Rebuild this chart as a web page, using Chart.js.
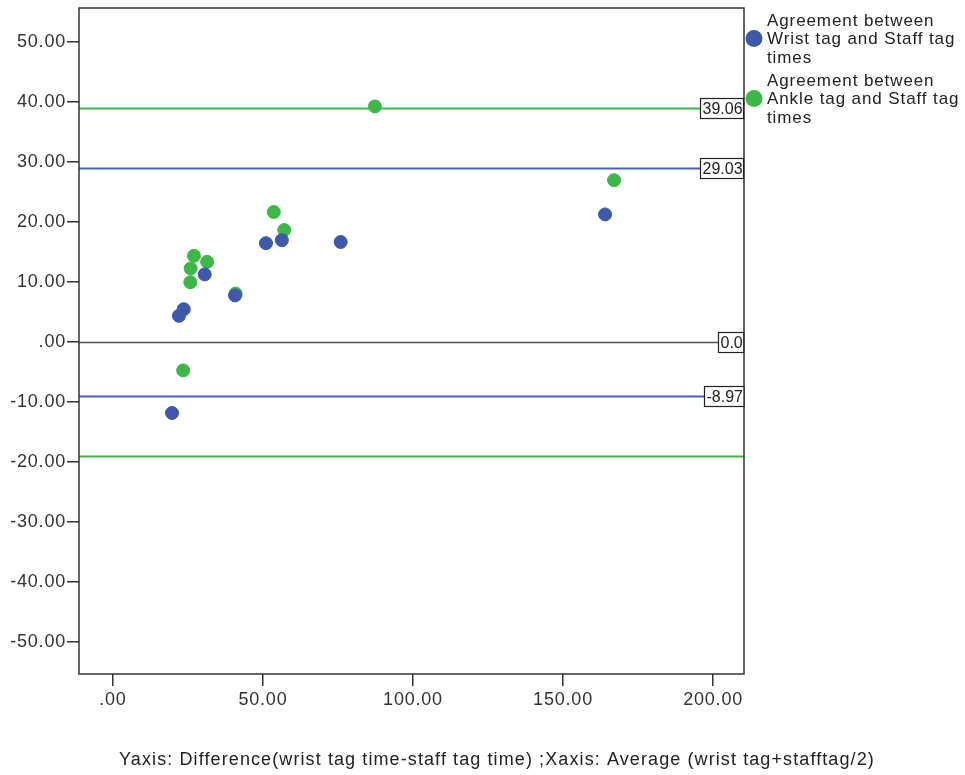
<!DOCTYPE html>
<html lang="en">

<head>
    <meta charset="UTF-8">
    <title>Bland-Altman - tag times</title>
    <script src="https://cdn.jsdelivr.net/npm/chart.js"></script>
    <style>
        body { margin: 0; background: #fff; }
        .boxGrafico { width: 965px; height: 775px; }
    </style>
</head>

<body>
    <div class="boxGrafico">
        <canvas id="myChartBland"></canvas>
    </div>
</body>

</html>

<script>

    // wrist tag vs staff tag (blue)
    const wristAvg = [19.7, 22.0, 23.6, 30.6, 40.7, 51.0, 56.3, 75.9, 164.0];
    const wristDiff = [-11.8, 4.4, 5.5, 11.3, 7.8, 16.5, 17.0, 16.7, 21.3];

    // ankle tag vs staff tag (green)
    const ankleAvg = [23.4, 25.8, 25.9, 27.0, 31.4, 40.9, 53.6, 57.1, 87.3, 167.0];
    const ankleDiff = [-4.7, 10.0, 12.3, 14.4, 13.4, 8.1, 21.7, 18.7, 39.3, 27.0];

    const legendLabels = [
        ['Agreement between', 'Wrist tag and Staff tag', 'times'],
        ['Agreement between', 'Ankle tag and Staff tag', 'times']
    ];

    // reference lines: value, colour, label
    const refValues = [39.06, 29.03, 0, -8.97, -18.9];
    const refLabels = ['39.06', '29.03', '0.0', '-8.97', ''];
    const refColors = ['#3db848', '#4a5fb5', '#555555', '#4a5fb5', '#3db848'];

    const xTicks = [0, 50, 100, 150, 200];
    const yTicks = [-50, -40, -30, -20, -10, 0, 10, 20, 30, 40, 50];

    const corAzul = '#3e58ac';
    const corVerde = '#3db848';
    const fonte = '"Liberation Sans", Arial, sans-serif';

    function formatarTick(v) {
        if (v === 0) return '.00';
        return v.toFixed(2);
    }

    const pluginExtras = {
        id: 'extras',
        beforeDraw(chart) {
            // labels in the reference are a bit wider than plain Arial
            chart.ctx.letterSpacing = '0.8px';
        },
        beforeDatasetsDraw(chart) {
            const ctx = chart.ctx;
            const area = chart.chartArea;
            const y = chart.scales.y;
            ctx.save();
            refValues.forEach((v, i) => {
                const py = Math.round(y.getPixelForValue(v)) + 0.5;
                ctx.strokeStyle = refColors[i];
                ctx.lineWidth = v === 0 ? 1.5 : 2;
                ctx.beginPath();
                ctx.moveTo(area.left, py);
                ctx.lineTo(area.right, py);
                ctx.stroke();
            });
            ctx.restore();
        },
        afterDraw(chart) {
            const ctx = chart.ctx;
            const area = chart.chartArea;
            const y = chart.scales.y;
            ctx.save();

            // frame
            ctx.strokeStyle = '#333';
            ctx.lineWidth = 1.5;
            ctx.strokeRect(area.left, area.top, area.right - area.left, area.bottom - area.top);

            // labels on reference lines
            ctx.letterSpacing = '0px';
            ctx.font = '16px ' + fonte;
            ctx.textBaseline = 'middle';
            ctx.textAlign = 'left';
            refValues.forEach((v, i) => {
                if (!refLabels[i]) return;
                const py = Math.round(y.getPixelForValue(v)) + 0.5;
                const w = ctx.measureText(refLabels[i]).width + 3;
                const h = 20;
                const bx = Math.round(area.right - w) - 0.5;
                const by = Math.round(py - h / 2) - 0.5;
                ctx.fillStyle = '#fff';
                ctx.fillRect(bx, by, w, h);
                ctx.strokeStyle = '#222';
                ctx.lineWidth = 1.2;
                ctx.strokeRect(bx, by, w, h);
                ctx.fillStyle = '#222';
                ctx.fillText(refLabels[i], bx + 2, py + 1);
            });

            // legend
            const cores = [corAzul, corVerde];
            ctx.font = '17px ' + fonte;
            ctx.letterSpacing = '0.9px';
            ctx.textBaseline = 'middle';
            legendLabels.forEach((linhas, i) => {
                const topo = 21 + i * 60;
                ctx.fillStyle = cores[i];
                ctx.beginPath();
                ctx.arc(754, topo + 17.5, 8.5, 0, Math.PI * 2);
                ctx.fill();
                ctx.fillStyle = '#222';
                linhas.forEach((t, j) => ctx.fillText(t, 767, topo + j * 18.5));
            });

            // axis caption
            ctx.font = '18px ' + fonte;
            ctx.letterSpacing = '1.1px';
            ctx.textAlign = 'center';
            ctx.fillStyle = '#222';
            ctx.fillText('Yaxis: Difference(wrist tag time-staff tag time) ;Xaxis: Average (wrist tag+stafftag/2)', 497, 760);
            ctx.restore();
        }
    };

    const ctxBland = document.getElementById('myChartBland');

    const myChartBland = new Chart(ctxBland, {
        type: 'scatter',
        data: {
            datasets: [
                {
                    label: legendLabels[0].join(' '),
                    data: wristAvg.map((v, i) => ({ x: v, y: wristDiff[i] })),
                    backgroundColor: corAzul,
                    borderColor: corAzul,
                    pointRadius: 6.5,
                    pointHoverRadius: 6.5
                },
                {
                    label: legendLabels[1].join(' '),
                    data: ankleAvg.map((v, i) => ({ x: v, y: ankleDiff[i] })),
                    backgroundColor: corVerde,
                    borderColor: corVerde,
                    pointRadius: 6.5,
                    pointHoverRadius: 6.5
                }
            ]
        },
        options: {
            responsive: true,
            maintainAspectRatio: false,
            animation: false,
            layout: {
                padding: { top: 8, right: 221, bottom: 0, left: 0 }
            },
            plugins: {
                legend: { display: false },
                tooltip: { enabled: false }
            },
            scales: {
                x: {
                    type: 'linear',
                    min: -11.3,
                    max: 210.3,
                    afterBuildTicks: s => { s.ticks = xTicks.map(v => ({ value: v })); },
                    afterFit: s => { s.height = 101; s.paddingLeft = 0; s.paddingRight = 0; },
                    grid: { drawOnChartArea: false, drawTicks: true, tickLength: 12, color: '#333', lineWidth: 1.5 },
                    border: { display: false },
                    ticks: {
                        padding: 3,
                        color: '#333',
                        font: { family: fonte, size: 18 },
                        callback: v => formatarTick(v)
                    }
                },
                y: {
                    type: 'linear',
                    min: -55.3,
                    max: 55.7,
                    afterBuildTicks: s => { s.ticks = yTicks.map(v => ({ value: v })); },
                    afterFit: s => { s.width = 79; s.paddingTop = 0; s.paddingBottom = 0; },
                    grid: { drawOnChartArea: false, drawTicks: true, tickLength: 12, color: '#333', lineWidth: 1.5 },
                    border: { display: false },
                    ticks: {
                        padding: 1,
                        color: '#333',
                        font: { family: fonte, size: 18 },
                        callback: v => formatarTick(v)
                    }
                }
            }
        },
        plugins: [pluginExtras]
    });

</script>
